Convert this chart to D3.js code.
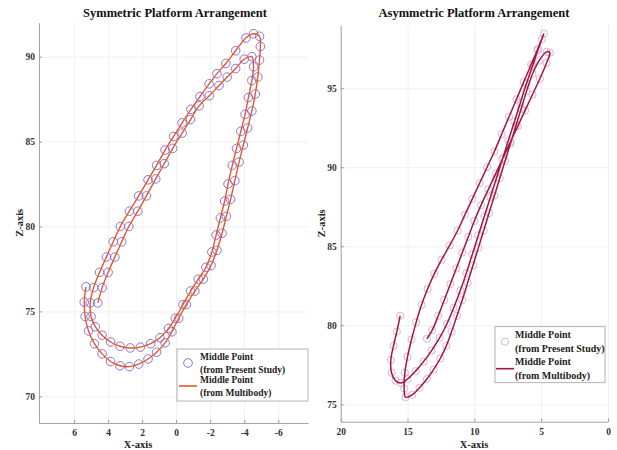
<!DOCTYPE html>
<html>
<head>
<meta charset="utf-8">
<script src="https://cdn.jsdelivr.net/npm/d3@7"></script>
<style>
  body { margin: 0; background: #fff; }
  svg text { font-family: "Liberation Serif", "Times New Roman", serif; font-weight: bold; }
</style>
</head>
<body>
<div id="chart"></div>
<script>
// symmetric arrangement: middle point trajectory (X, Z)
const symX = [5.30, 5.40, 5.35, 5.15, 4.80, 4.35, 3.85, 3.30, 2.75, 2.20, 1.65, 1.15, 0.65, 0.25, -0.15,
  -0.60, -1.10, -1.60, -2.05, -2.40, -2.70, -2.95, -3.20, -3.45, -3.70, -3.95, -4.20, -4.45, -4.65, -4.80,
  -4.90, -4.95, -4.90, -4.55, -4.10, -3.50, -2.92, -2.40, -1.94, -1.40, -0.87, -0.35, 0.15, 0.65, 1.15,
  1.65, 2.20, 2.75, 3.28, 3.70, 4.10, 4.50, 4.85, 5.05, 5.00, 4.75, 4.35, 3.85, 3.30, 2.70,
  2.10, 1.50, 0.95, 0.45, 0.05, -0.40, -0.85, -1.30, -1.75, -2.10, -2.35, -2.60, -2.85, -3.05, -3.30,
  -3.55, -3.80, -4.05, -4.25, -4.45, -4.55, -4.45, -4.00, -3.50, -3.00, -2.52, -1.95, -1.35, -0.85, -0.35,
  0.20, 0.70, 1.20, 1.75, 2.25, 2.78, 3.20, 3.60, 4.00, 4.35, 4.60];
const symZ = [76.45, 75.55, 74.70, 73.85, 73.10, 72.50, 72.05, 71.80, 71.75, 71.90, 72.20, 72.60, 73.15, 73.80, 74.60,
  75.40, 76.20, 76.90, 77.70, 78.60, 79.60, 80.60, 81.60, 82.70, 83.80, 84.80, 85.80, 86.80, 87.80, 88.80,
  89.80, 90.60, 91.20, 91.35, 91.10, 90.35, 89.60, 89.00, 88.40, 87.65, 86.90, 86.10, 85.30, 84.50, 83.60,
  82.75, 81.80, 80.90, 80.00, 79.10, 78.20, 77.30, 76.40, 75.50, 74.70, 74.10, 73.60, 73.20, 72.95, 72.85,
  72.90, 73.10, 73.45, 74.00, 74.60, 75.40, 76.20, 76.90, 77.60, 78.50, 79.50, 80.50, 81.50, 82.50, 83.60,
  84.60, 85.60, 86.60, 87.60, 88.60, 89.40, 90.00, 89.85, 89.30, 88.80, 88.30, 87.70, 87.10, 86.30, 85.50,
  84.60, 83.70, 82.80, 81.80, 80.90, 80.00, 79.10, 78.20, 77.30, 76.40, 75.50];

// asymmetric arrangement: middle point trajectory (X, Z)
const asymX = [15.55, 15.80, 16.05, 16.25, 16.20, 15.90, 15.50, 15.00, 14.40, 13.80, 13.20, 12.60, 12.05, 11.55, 11.05,
  10.60, 10.15, 9.70, 9.25, 8.80, 8.35, 7.90, 7.45, 7.00, 6.55, 6.10, 5.65, 5.25, 4.95, 4.80,
  5.25, 5.75, 6.30, 6.85, 7.40, 7.95, 8.50, 9.05, 9.60, 10.15, 10.70, 11.25, 11.85, 12.45, 13.00,
  13.50, 13.95, 14.35, 14.70, 15.00, 15.20, 15.25, 15.15,
  14.65, 14.10, 13.55, 13.05, 12.55, 12.10, 11.70, 11.30, 10.90, 10.50, 10.10, 9.70, 9.30, 8.90, 8.50,
  8.10, 7.70, 7.30, 6.90, 6.50, 6.10, 5.65, 5.15, 4.60, 4.35,
  4.60, 5.10, 5.65, 6.20, 6.75, 7.30, 7.85, 8.40, 8.95, 9.50, 10.00, 10.45, 10.90, 11.35, 11.80,
  12.25, 12.70, 13.15, 13.55];
const asymZ = [80.60, 79.60, 78.70, 77.80, 77.00, 76.50, 76.35, 76.60, 77.10, 77.70, 78.40, 79.20, 80.10, 81.10, 82.20,
  83.30, 84.50, 85.70, 86.90, 88.10, 89.30, 90.50, 91.70, 92.90, 94.10, 95.30, 96.40, 97.40, 98.10, 98.45,
  97.50, 96.50, 95.40, 94.30, 93.20, 92.10, 91.00, 90.00, 89.00, 88.00, 87.00, 86.00, 85.05, 84.15, 83.25,
  82.30, 81.30, 80.20, 79.10, 78.00, 77.00, 76.00, 75.45,
  75.60, 76.05, 76.60, 77.20, 77.90, 78.70, 79.60, 80.60, 81.60, 82.70, 83.80, 84.90, 86.00, 87.10, 88.20,
  89.30, 90.40, 91.50, 92.60, 93.70, 94.80, 95.90, 96.75, 97.30, 97.25,
  96.60, 95.60, 94.60, 93.60, 92.60, 91.60, 90.60, 89.60, 88.60, 87.60, 86.60, 85.60, 84.60, 83.60, 82.60,
  81.60, 80.60, 79.70, 79.15];

const symXTicks = [6, 4, 2, 0, -2, -4, -6];
const symZTicks = [70, 75, 80, 85, 90];
const asymXTicks = [20, 15, 10, 5, 0];
const asymZTicks = [75, 80, 85, 90, 95];
const legendLabels = [["Middle Point", "(from Present Study)"], ["Middle Point", "(from Multibody)"]];

const svg = d3.select("#chart").append("svg")
  .attr("width", 617)
  .attr("height", 450);

function panel(opt) {
  const x = d3.scaleLinear().domain(opt.xDomain).range(opt.xRange);
  const y = d3.scaleLinear().domain(opt.yDomain).range(opt.yRange);
  const g = svg.append("g");
  const top = opt.yRange[1], bottom = opt.yRange[0];
  const left = opt.xRange[0], right = opt.xRange[1];

  // grid
  g.append("g")
    .attr("transform", "translate(0," + bottom + ")")
    .call(d3.axisBottom(x).tickValues(opt.xTicks).tickSize(-(bottom - top)).tickFormat(""))
    .call(s => s.select(".domain").remove())
    .selectAll("line").attr("stroke", "#ececec").attr("stroke-width", 0.8);
  g.append("g")
    .attr("transform", "translate(" + left + ",0)")
    .call(d3.axisLeft(y).tickValues(opt.yTicks).tickSize(-(right - left)).tickFormat(""))
    .call(s => s.select(".domain").remove())
    .selectAll("line").attr("stroke", "#ececec").attr("stroke-width", 0.8);

  // axes
  const xAxis = g.append("g")
    .attr("transform", "translate(0," + bottom + ")")
    .call(d3.axisBottom(x).tickValues(opt.xTicks).tickSizeInner(-3).tickSizeOuter(0).tickPadding(6.5)
      .tickFormat(d => String(d).replace("\u2212", "-")));
  const yAxis = g.append("g")
    .attr("transform", "translate(" + left + ",0)")
    .call(d3.axisLeft(y).tickValues(opt.yTicks).tickSizeInner(-3).tickSizeOuter(0).tickPadding(4));
  [xAxis, yAxis].forEach(a => {
    a.select(".domain").attr("stroke", "#9a9a9a").attr("stroke-width", 0.9);
    a.selectAll(".tick line").attr("stroke", "#9a9a9a");
    a.selectAll("text").attr("fill", "#333").style("font-size", "9.5px")
      .style("font-family", "'Liberation Serif', serif").style("font-weight", "bold");
  });

  // title and axis labels
  g.append("text").attr("x", opt.titleX).attr("y", 17)
    .attr("text-anchor", "middle").style("font-size", "12.5px").attr("fill", "#111")
    .text(opt.title);
  g.append("text").attr("x", opt.xLabelX).attr("y", 448)
    .attr("text-anchor", "middle").style("font-size", "10.5px").attr("fill", "#222")
    .text("X-axis");
  g.append("text")
    .attr("transform", "translate(" + opt.yLabelX + "," + ((top + bottom) / 2) + ") rotate(-90)")
    .attr("text-anchor", "middle").style("font-size", "10.5px").attr("fill", "#222")
    .text("Z-axis");

  // data
  const pts = opt.xs.map((v, i) => [v, opt.zs[i]]);
  const line = d3.line().x(d => x(d[0])).y(d => y(d[1])).curve(d3.curveCatmullRom.alpha(0.5));
  g.selectAll(".pt").data(pts).enter().append("circle")
    .attr("class", "pt")
    .attr("cx", d => x(d[0])).attr("cy", d => y(d[1]))
    .attr("r", opt.r)
    .attr("fill", "none")
    .attr("stroke", opt.markerColor)
    .attr("stroke-width", 0.9);
  g.append("path").datum(pts)
    .attr("d", line)
    .attr("fill", "none")
    .attr("stroke", opt.lineColor)
    .attr("stroke-width", opt.lineWidth);

  // legend
  const L = opt.legend;
  const lg = g.append("g").attr("transform", "translate(" + L.x + "," + L.y + ")");
  lg.append("rect").attr("width", L.w).attr("height", L.h)
    .attr("fill", "#fff").attr("stroke", "#a0a0a0").attr("stroke-width", 0.8);
  legendLabels.forEach((lab, i) => {
    const cy = L.rowY[i];
    if (i == 0) {
      lg.append("circle").attr("cx", L.markX).attr("cy", cy).attr("r", opt.r)
        .attr("fill", "none").attr("stroke", opt.markerColor).attr("stroke-width", 0.9);
    } else {
      lg.append("line").attr("x1", L.markX - 9).attr("x2", L.markX + 9)
        .attr("y1", cy).attr("y2", cy)
        .attr("stroke", opt.lineColor).attr("stroke-width", 1.6);
    }
    lab.forEach((t, j) => {
      lg.append("text").attr("x", L.textX).attr("y", cy - L.gap / 2 + j * L.gap + 3.5)
        .style("font-size", L.font).attr("fill", "#222").text(t);
    });
  });
}

panel({
  xDomain: [8.06, -7.75], xRange: [39, 308],
  yDomain: [68.43, 92.0], yRange: [423, 22.7],
  xTicks: symXTicks, yTicks: symZTicks,
  title: "Symmetric Platform Arrangement", titleX: 175,
  xLabelX: 138, yLabelX: 23,
  xs: symX, zs: symZ, r: 4.3,
  markerColor: "#8263d2", lineColor: "#e5582b", lineWidth: 1.4,
  legend: {x: 177, y: 349, w: 131, h: 52, rowY: [14, 37], markX: 11, textX: 23, gap: 12.3, font: "9.5px"}
});

panel({
  xDomain: [20, 0], xRange: [340.7, 608],
  yDomain: [73.9, 99.0], yRange: [421.7, 25],
  xTicks: asymXTicks, yTicks: asymZTicks,
  title: "Asymmetric Platform Arrangement", titleX: 474,
  xLabelX: 474, yLabelX: 325,
  xs: asymX, zs: asymZ, r: 3.6,
  markerColor: "#d2a9d6", lineColor: "#a3173c", lineWidth: 1.5,
  legend: {x: 495, y: 326.7, w: 110, h: 56, rowY: [15, 42], markX: 10, textX: 20, gap: 14.5, font: "10px"}
});
</script>
</body>
</html>
